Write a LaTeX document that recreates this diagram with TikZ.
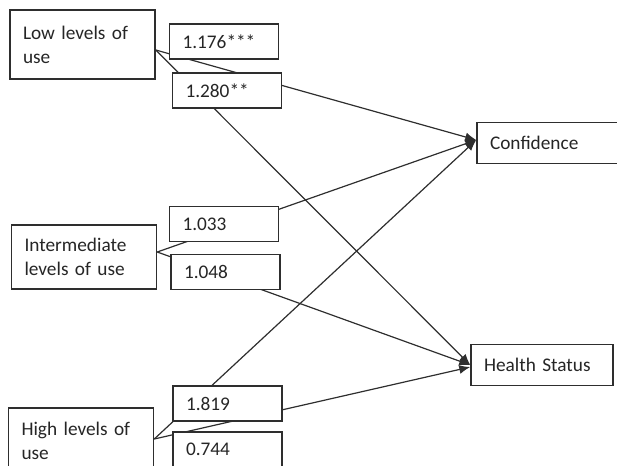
\documentclass[tikz,border=0pt]{standalone}
\usepackage{fontspec}
\setmainfont{Carlito}
\usepackage{tikz}
\usetikzlibrary{arrows.meta}

\definecolor{boxline}{gray}{0.18}
\definecolor{txtgray}{gray}{0.15}

\begin{document}
\begin{tikzpicture}[x=1pt, y=-1pt,
    every node/.style={font=\fontsize{19.3}{24}\selectfont, text=txtgray},
    groupbox/.style={draw=boxline, line width=1.5pt, fill=white, inner xsep=13pt,
                     inner ysep=0pt, text width=119pt, align=left},
    coefbox/.style={draw=boxline, line width=1.5pt, fill=white, inner xsep=13pt,
                    inner ysep=0pt, text width=83pt, minimum height=35pt, align=left},
    outbox/.style={draw=boxline, line width=1.5pt, fill=white, inner xsep=13pt,
                   inner ysep=0pt, text width=116pt, minimum height=41pt, align=left},
    path/.style={draw=boxline, line width=1.2pt},
    effect/.style={path, -{Latex[length=11pt, width=9pt]}}]
  \useasboundingbox (0,0) rectangle (617,465);
  \clip (0,0) rectangle (617,465);

  % Levels of use
  \node[groupbox, minimum height=69pt] (low) at (82.5, 44.5) {Low levels of\\use};
  \node[groupbox, minimum height=64pt] (mid) at (84, 257) {Intermediate\\levels of use};
  \node[groupbox, minimum height=66pt] (high) at (81, 441) {High levels of\\use};

  % Outcomes
  \node[outbox] (conf) at (548, 143) {Confidence};
  \node[outbox] (health) at (542, 365) {Health Status};

  % Paths (drawn below the coefficient boxes)
  \draw[effect] ([yshift=-5.5pt]low.east) -- ([yshift=3pt]conf.west);
  \draw[effect] ([yshift=-5.5pt]low.east) -- (health.west);
  \draw[effect] ([yshift=5pt]mid.east) -- ([yshift=3pt]conf.west);
  \draw[effect] ([yshift=5pt]mid.east) -- (health.west);
  \draw[effect] ([yshift=2pt]high.east) -- ([yshift=3pt]conf.west);
  \draw[effect] ([yshift=2pt]high.east) -- ([yshift=-2pt]health.west);

  % Coefficients
  \node[coefbox] (c1) at (224, 41.5) {1.176***};
  \node[coefbox] (c2) at (227, 90.5) {1.280**};
  \node[coefbox] (c3) at (224, 224) {1.033};
  \node[coefbox] (c4) at (225.5, 272) {1.048};
  \node[coefbox] (c5) at (227.5, 403.5) {1.819};
  \node[coefbox] (c6) at (227.5, 449.5) {0.744};
\end{tikzpicture}
\end{document}
